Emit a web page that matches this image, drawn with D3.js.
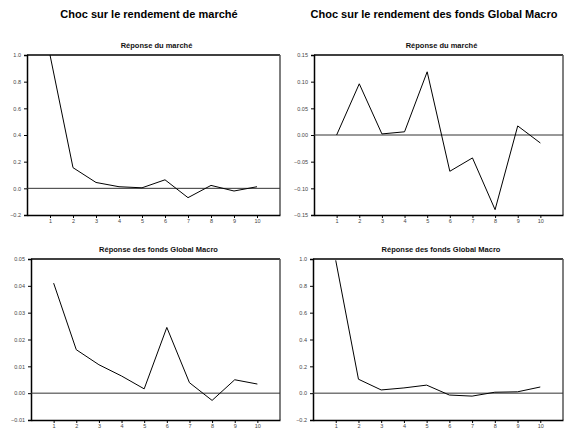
<!DOCTYPE html>
<html><head><meta charset="utf-8">
<script src="https://cdn.jsdelivr.net/npm/d3@7"></script>
<style>body{margin:0;background:#fff}svg{display:block}</style>
</head><body>
<script>
const periods = [1,2,3,4,5,6,7,8,9,10];
const columnTitles = ["Choc sur le rendement de marché", "Choc sur le rendement des fonds Global Macro"];
const panelTitles = ["Réponse du marché", "Réponse du marché", "Réponse des fonds Global Macro", "Réponse des fonds Global Macro"];
const mktShockMktResp = [1.0, 0.155, 0.044, 0.012, 0.004, 0.064, -0.07, 0.022, -0.02, 0.012];
const gmShockMktResp = [0.0, 0.096, 0.002, 0.006, 0.1185, -0.068, -0.043, -0.140, 0.017, -0.015];
const mktShockGmResp = [0.041, 0.0162, 0.0106, 0.0064, 0.0016, 0.0245, 0.0039, -0.0027, 0.005, 0.0034];
const gmShockGmResp = [0.99, 0.104, 0.024, 0.039, 0.060, -0.014, -0.022, 0.007, 0.010, 0.046];
const yTicksA = [-0.2, 0.0, 0.2, 0.4, 0.6, 0.8, 1.0];
const yTicksB = [-0.15, -0.10, -0.05, 0.00, 0.05, 0.10, 0.15];
const yTicksC = [-0.01, 0.00, 0.01, 0.02, 0.03, 0.04, 0.05];

const W = 584, H = 430;
const svg = d3.select("body").append("svg").attr("width", W).attr("height", H);

const panels = [
  {title: panelTitles[0], data: mktShockMktResp, ticks: yTicksA, fmt: d3.format(".1f"), l: 27, r: 280, t: 55, b: 215},
  {title: panelTitles[1], data: gmShockMktResp, ticks: yTicksB, fmt: d3.format(".2f"), l: 314, r: 563, t: 55, b: 215},
  {title: panelTitles[2], data: mktShockGmResp, ticks: yTicksC, fmt: d3.format(".2f"), l: 31, r: 280, t: 259, b: 420},
  {title: panelTitles[3], data: gmShockGmResp, ticks: yTicksA, fmt: d3.format(".1f"), l: 313, r: 563, t: 259, b: 420}
];

svg.append("text").attr("x", 149).attr("y", 18).attr("text-anchor", "middle")
  .style("font", "bold 11px 'Liberation Sans', Arial, sans-serif").attr("fill", "#000").text(columnTitles[0]);
svg.append("text").attr("x", 434).attr("y", 18).attr("text-anchor", "middle")
  .style("font", "bold 11px 'Liberation Sans', Arial, sans-serif").attr("fill", "#000").text(columnTitles[1]);

panels.forEach(p => {
  const g = svg.append("g");
  const x = d3.scaleLinear().domain([0, 11]).range([p.l, p.r]);
  const y = d3.scaleLinear().domain([p.ticks[0], p.ticks[p.ticks.length - 1]]).range([p.b, p.t]);

  g.append("text").attr("x", (p.l + p.r) / 2 + 3).attr("y", p.t - 7).attr("text-anchor", "middle")
    .style("font", "bold 7.5px 'Liberation Sans', Arial, sans-serif").attr("fill", "#111").text(p.title);

  g.append("line").attr("x1", p.l).attr("x2", p.r).attr("y1", p.t).attr("y2", p.t)
    .attr("stroke", "#000").attr("stroke-width", 1.5);
  g.append("line").attr("x1", p.r).attr("x2", p.r).attr("y1", p.t).attr("y2", p.b)
    .attr("stroke", "#555").attr("stroke-width", 1.5);

  const yAxis = d3.axisLeft(y).tickValues(p.ticks).tickFormat(p.fmt).tickSize(3).tickPadding(3);
  const ya = g.append("g").attr("transform", `translate(${p.l},0)`).call(yAxis);
  ya.select(".domain").attr("stroke", "#000").attr("stroke-width", 1.5);
  ya.selectAll(".tick line").attr("stroke", "#000");
  ya.selectAll("text").style("font", "5.5px 'Liberation Sans', Arial, sans-serif").attr("fill", "#444");

  const xAxis = d3.axisBottom(x).tickValues(periods).tickFormat(d3.format("d")).tickSize(3).tickPadding(1).tickSizeOuter(0);
  const xa = g.append("g").attr("transform", `translate(0,${p.b})`).call(xAxis);
  xa.select(".domain").attr("stroke", "#000").attr("stroke-width", 1.5);
  xa.selectAll(".tick line").attr("stroke", "#000");
  xa.selectAll("text").style("font", "5.5px 'Liberation Sans', Arial, sans-serif").attr("fill", "#444");

  g.append("line").attr("x1", p.l).attr("x2", p.r).attr("y1", y(0)).attr("y2", y(0))
    .attr("stroke", "#333").attr("stroke-width", 1);

  const line = d3.line().x((d, i) => x(periods[i])).y(d => y(d));
  g.append("path").datum(p.data).attr("d", line).attr("fill", "none")
    .attr("stroke", "#000").attr("stroke-width", 1);
});
</script>
</body></html>
